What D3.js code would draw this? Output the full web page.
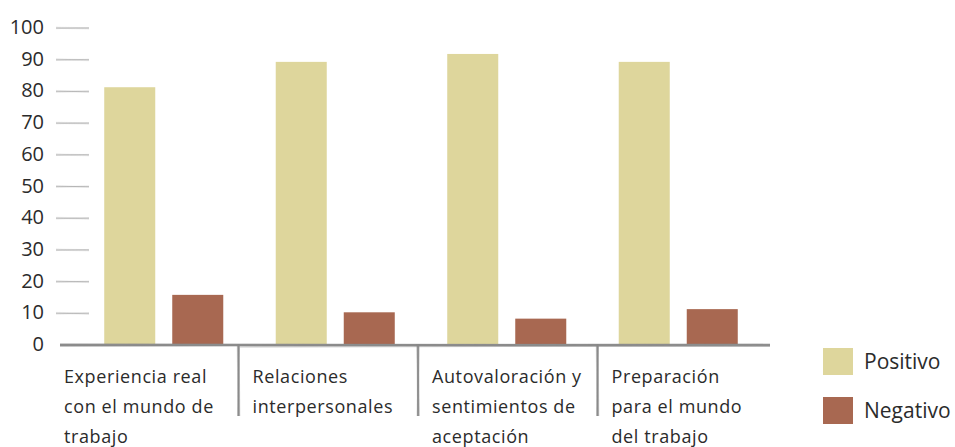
<!DOCTYPE html>
<html>
<head>
<meta charset="utf-8">
<script src="https://cdn.jsdelivr.net/npm/d3@7"></script>
<style>
  body { margin: 0; background: #fff; }
  text { font-family: "Open Sans", "Noto Sans", sans-serif; fill: #2b2b2b; }
</style>
</head>
<body>
<div id="container"></div>
<script>
var categories = [
  ['Experiencia real', 'con el mundo de', 'trabajo'],
  ['Relaciones', 'interpersonales'],
  ['Autovaloración y', 'sentimientos de', 'aceptación'],
  ['Preparación', 'para el mundo', 'del trabajo']
];
var seriesNames = ['Positivo', 'Negativo'];
var positivo = [81, 89, 91.5, 89];
var negativo = [15.5, 10, 8, 11];
var yTicks = [0, 10, 20, 30, 40, 50, 60, 70, 80, 90, 100];
var colors = ['#ded69c', '#a86851'];

var svgWidth = 955, svgHeight = 447;
var svg = d3.select('#container').append('svg')
    .attr('width', svgWidth).attr('height', svgHeight)
    .style('background-color', 'white');

var catIds = categories.map(function(d, i) { return i; });
var data = catIds.map(function(i) { return { cat: i, values: [positivo[i], negativo[i]] }; });

var y = d3.scaleLinear().domain([0, 100]).range([344, 27]);
var x0 = d3.scaleBand().domain(catIds).range([78, 764]).paddingInner(0.306).paddingOuter(0.153);
var x1 = d3.scaleBand().domain([0, 1]).range([0, x0.bandwidth()]).paddingInner(0.25);
var xl = d3.scaleBand().domain(catIds).range([59, 777]);

// sketchy gray strokes
function sketch(x1p, y1p, x2p, y2p, w, op) {
  var offs = [[0, 0, 0.9], [0.7, -0.5, 0.5], [-0.6, 0.6, 0.45], [0.4, 1, 0.35], [-1, -0.2, 0.25]];
  offs.forEach(function(o) {
    var vertical = x1p === x2p;
    svg.append('line')
      .attr('x1', x1p + (vertical ? o[0] : 0)).attr('x2', x2p + (vertical ? o[1] : 0))
      .attr('y1', y1p + (vertical ? 0 : o[0])).attr('y2', y2p + (vertical ? 0 : o[1]))
      .attr('stroke', '#8a8a8a')
      .attr('stroke-opacity', o[2] * (op || 1))
      .attr('stroke-width', w);
  });
}

// y ticks
yTicks.forEach(function(t) {
  svg.append('text')
    .attr('x', 44).attr('y', y(t)).attr('dy', '0.35em')
    .attr('text-anchor', 'end')
    .style('font-size', '20px')
    .text(t);
  if (t > 0) sketch(56, y(t) + 1, 89, y(t) + 1, 0.7, 0.6);
});

// bars
var groups = svg.selectAll('.group').data(data).enter().append('g')
    .attr('transform', function(d) { return 'translate(' + x0(d.cat) + ',0)'; });

groups.selectAll('rect').data(function(d) { return d.values; }).enter().append('rect')
    .attr('x', function(d, i) { return x1(i); })
    .attr('width', x1.bandwidth())
    .attr('y', function(d) { return y(d); })
    .attr('height', function(d) { return y(0) - y(d); })
    .attr('fill', function(d, i) { return colors[i]; });

// baseline
sketch(60, y(0) + 1, 770, y(0) + 1, 2);
svg.append('line').attr('x1', 240).attr('x2', 770).attr('y1', y(0) + 3).attr('y2', y(0) + 2)
  .attr('stroke', '#999').attr('stroke-opacity', 0.5).attr('stroke-width', 1.2);

// dividers
catIds.slice(1).forEach(function(i) {
  sketch(xl(i), y(0), xl(i), 416, 1.6);
});

// category labels
categories.forEach(function(lines, i) {
  var lx = xl(i) + (i === 0 ? 5 : 14);
  var t = svg.append('text')
    .attr('x', lx)
    .attr('y', 383)
    .style('font-size', '18px')
    .style('letter-spacing', '0.6px');
  lines.forEach(function(l, j) {
    t.append('tspan').attr('x', lx).attr('dy', j === 0 ? 0 : 30).text(l);
  });
});

// legend
seriesNames.forEach(function(s, i) {
  svg.append('rect')
    .attr('x', 823).attr('y', 348 + i * 49)
    .attr('width', 30).attr('height', 27)
    .attr('fill', colors[i]);
  svg.append('text')
    .attr('x', 864).attr('y', 362 + i * 49).attr('dy', '0.35em')
    .style('font-size', '21px')
    .text(s);
});
</script>
</body>
</html>
